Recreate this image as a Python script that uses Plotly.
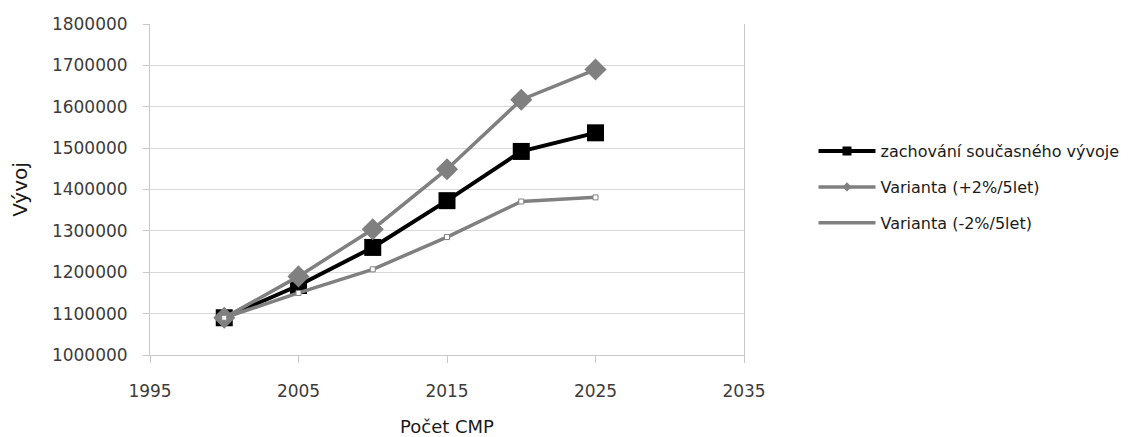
import plotly.graph_objects as go

years = [2000, 2005, 2010, 2015, 2020, 2025]
zachovani = [1090000, 1168000, 1260000, 1373000, 1492000, 1537000]
plus2 = [1090000, 1190000, 1304000, 1449000, 1617000, 1690000]
minus2 = [1090000, 1150000, 1207000, 1285000, 1371000, 1381000]

series_names = ["zachování současného vývoje", "Varianta (+2%/5let)", "Varianta (-2%/5let)"]
x_ticks = [1995, 2005, 2015, 2025, 2035]
y_ticks = list(range(1000000, 1800001, 100000))

font_family = "DejaVu Sans"
gray = "#808080"
axis_gray = "#c8c8c8"
tick_color = "#3c3c3c"

styles = [
    dict(y=zachovani, line=dict(color="black", width=4),
         marker=dict(symbol="square", size=17, color="black"),
         legend_marker=dict(symbol="square", size=9, color="black")),
    dict(y=plus2, line=dict(color=gray, width=3.5),
         marker=dict(symbol="diamond", size=17, color=gray),
         legend_marker=dict(symbol="diamond", size=7, color=gray)),
    dict(y=minus2, line=dict(color=gray, width=3.5),
         marker=dict(symbol="square", size=5, color="white", line=dict(color=gray, width=1)),
         legend_marker=None),
]

fig = go.Figure()

# data series, drawn in series order
for name, st in zip(series_names, styles):
    fig.add_trace(go.Scatter(
        x=years, y=st["y"], name=name, mode="lines+markers",
        line=st["line"], marker=st["marker"], showlegend=False,
    ))

# legend entries with compact symbols
for i, (name, st) in enumerate(zip(series_names, styles)):
    lm = st["legend_marker"]
    fig.add_trace(go.Scatter(
        x=[None], y=[None], name=name,
        mode="lines+markers" if lm else "lines",
        line=st["line"], marker=lm if lm else None,
        legendgroup=f"g{i}", showlegend=True,
    ))

fig.update_layout(
    width=1142, height=437,
    margin=dict(l=150, r=398, t=24, b=82),
    paper_bgcolor="white", plot_bgcolor="white",
    font=dict(family=font_family, color=tick_color, size=15),
    showlegend=True,
    legend=dict(
        x=1.117, xanchor="left", y=0.507, yanchor="middle",
        font=dict(family=font_family, size=16, color="#1a1a1a"),
        traceorder="grouped", tracegroupgap=12, itemwidth=57,
        bgcolor="rgba(0,0,0,0)",
    ),
    xaxis=dict(
        range=[1995, 2035], tickvals=x_ticks, showgrid=False, automargin=False,
        showline=True, linecolor=axis_gray, linewidth=1,
        ticks="outside", ticklen=7, tickcolor=axis_gray, zeroline=False,
        tickfont=dict(size=17, color=tick_color), ticklabelstandoff=14,
        title=dict(text="Počet CMP", font=dict(size=18, color="#1a1a1a"), standoff=20),
    ),
    yaxis=dict(
        range=[1000000, 1800000], tickvals=y_ticks, showgrid=True, gridcolor="#d9d9d9",
        gridwidth=1, showline=True, linecolor=axis_gray, linewidth=1, mirror=True,
        ticks="outside", ticklen=6, tickcolor=axis_gray, zeroline=False, automargin=False,
        tickformat="d", tickfont=dict(size=17, color=tick_color), ticklabelstandoff=12,
        title=dict(text="Vývoj", font=dict(size=20, color="#1a1a1a"), standoff=18),
    ),
)

fig.write_html("out.html")
